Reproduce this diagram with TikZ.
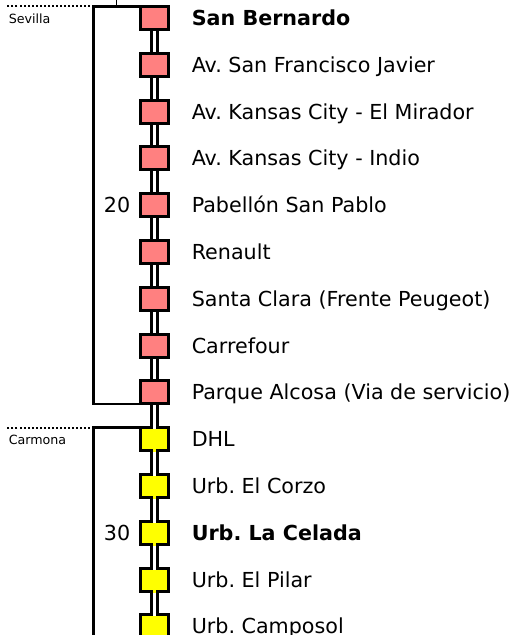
\documentclass[tikz,border=0pt]{standalone}
\usepackage{fontspec}
\setmainfont{DejaVu Sans}
\usetikzlibrary{backgrounds}
\frenchspacing

\definecolor{sevillared}{HTML}{FF8080}
\definecolor{carmonayellow}{HTML}{FFFF00}

\tikzset{
	stop/.style={draw, line width=2.25pt, minimum width=21pt, minimum height=17.25pt, inner sep=0pt, outer sep=0pt},
	sevillastop/.style={stop, fill=sevillared},
	carmonastop/.style={stop, fill=carmonayellow},
	track/.style={line width=2.4pt, double=white, double distance=2.4pt},
	zone/.style={line width=2pt},
	boundary/.style={line width=1.5pt, dash pattern=on 1.5pt off 1.5pt},
	stopname/.style={anchor=west, inner sep=0pt, font=\fontsize{15.5pt}{18pt}\selectfont, text height=11.3pt, text depth=0pt},
	km/.style={stopname, anchor=east},
	zonename/.style={anchor=west, inner sep=0pt, font=\fontsize{9.5pt}{11pt}\selectfont, text height=6.9pt, text depth=0pt},
}

\begin{document}
\begin{tikzpicture}[x=0.75pt, y=0.75pt]
			\useasboundingbox (0,0) rectangle (520,-635);
			
			% Sevilla
			\node[sevillastop] (s0) at (154.5,-18) {};
			\node[sevillastop] (s1) at (154.5,-64.8) {};
			\node[sevillastop] (s2) at (154.5,-111.6) {};
			\node[sevillastop] (s3) at (154.5,-158.4) {};
			\node[sevillastop] (s4) at (154.5,-205.2) {};
			\node[sevillastop] (s5) at (154.5,-252) {};
			\node[sevillastop] (s6) at (154.5,-298.8) {};
			\node[sevillastop] (s7) at (154.5,-345.6) {};
			\node[sevillastop] (s8) at (154.5,-392.4) {};
			
			% Carmona
			\node[carmonastop] (s9) at (154.5,-439.2) {};
			\node[carmonastop] (s10) at (154.5,-486) {};
			\node[carmonastop] (s11) at (154.5,-532.8) {};
			\node[carmonastop] (s12) at (154.5,-579.6) {};
			\node[carmonastop] (s13) at (154.5,-626.4) {};
			
			% Track
			\begin{scope}[on background layer]
				\draw[track] (s0) -- (s13);
			\end{scope}
			\foreach \n in {s9,s10,s11,s12,s13}{
				\fill[white] ([shift={(-1.2pt,1.15pt)}]\n.north) rectangle ([shift={(1.2pt,-1.15pt)}]\n.north);
				\fill[carmonayellow] ([shift={(-1.2pt,1.15pt)}]\n.south) rectangle ([shift={(1.2pt,-1.15pt)}]\n.south);
			}
			
			% Zones
			\coordinate (feed) at (116,0);
			\coordinate (sevilla) at (93.5,0 |- s0.north);
			\coordinate (sevillaend) at (6,0 |- sevilla);
			\draw[line width=0.75pt] (feed) -- (feed |- sevilla);
			\draw[zone] (s0.north west) -- (sevilla) |- (s8.south west);
			\draw[boundary] (sevilla) -- (sevillaend);
			\node[zonename] (sevillaname) at (8.5,-18.5) {Sevilla};
			
			\coordinate (carmona) at (93.5,0 |- s9.north);
			\coordinate (carmonaend) at (6,0 |- carmona);
			\coordinate (carmonabottom) at (93.5,-640);
			\draw[zone] (s9.north west) -- (carmona) -- (carmonabottom);
			\draw[boundary] (carmona) -- (carmonaend);
			\node[zonename] (carmonaname) at (8.5,-440) {Carmona};
			
			% Names
			\node[stopname] (n0) at (191.5,-18) {\bfseries San Bernardo};
			\node[stopname] (n1) at (191.5,-64.8) {Av. San Francisco Javier};
			\node[stopname] (n2) at (191.5,-111.6) {Av. Kansas City - El Mirador};
			\node[stopname] (n3) at (191.5,-158.4) {Av. Kansas City - Indio};
			\node[stopname] (n4) at (191.5,-205.2) {Pabellón San Pablo};
			\node[stopname] (n5) at (191.5,-252) {Renault};
			\node[stopname] (n6) at (191.5,-298.8) {Santa Clara (Frente Peugeot)};
			\node[stopname] (n7) at (191.5,-345.6) {Carrefour};
			\node[stopname] (n8) at (191.5,-392.4) {Parque Alcosa (Via de servicio)};
			\node[stopname] (n9) at (191.5,-439.2) {DHL};
			\node[stopname] (n10) at (191.5,-486) {Urb. El Corzo};
			\node[stopname] (n11) at (191.5,-532.8) {\bfseries Urb. La Celada};
			\node[stopname] (n12) at (191.5,-579.6) {Urb. El Pilar};
			\node[stopname] (n13) at (191.5,-626.4) {Urb. Camposol};
			
			% Km
			\node[km] (km20) at (130.5,-205.2) {20};
			\node[km] (km30) at (130.5,-532.8) {30};
		\end{tikzpicture}
\end{document}
